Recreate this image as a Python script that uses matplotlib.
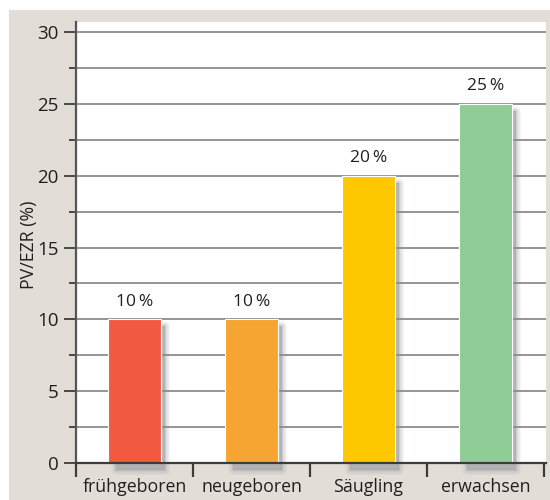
import matplotlib
matplotlib.use("Agg")
import matplotlib.pyplot as plt
from matplotlib.patches import Rectangle
from matplotlib.transforms import ScaledTranslation

categories = ["frühgeboren", "neugeboren", "Säugling", "erwachsen"]
values = [10, 10, 20, 25]
labels = ["10\u2009%", "10\u2009%", "20\u2009%", "25\u2009%"]
colors = ["#f15a41", "#f7a532", "#fec800", "#90cc95"]
yticks = [0, 5, 10, 15, 20, 25, 30]

plt.rcParams['font.family'] = ['Open Sans', 'DejaVu Sans']
TXT = "#231f20"
BEIGE = "#e2ddd6"
GRID = "#8c8c8c"
AX = "#3c3c3c"

W, H = 550, 500
fig = plt.figure(figsize=(5.5, 5.0), dpi=100, facecolor="white")
fig.patches.append(Rectangle((9 / W, 0), 1 - 9 / W, 490 / H, transform=fig.transFigure,
                             facecolor=BEIGE, edgecolor="none", zorder=-10))

ax = fig.add_axes([76 / W, (H - 463) / H, (546 - 76) / W, (463 - 22) / H])
ax.set_facecolor("white")
ax.set_xlim(-0.5, 3.517)
ax.set_ylim(0, 30.71)

# grid lines
for yv in [i * 2.5 for i in range(1, 13)]:
    ax.axhline(yv, color=GRID, lw=1.3, zorder=1)

x = list(range(len(categories)))
bw = 0.445
# blurred shadows (pixel offsets)
off = ScaledTranslation(6 / 100, -7 / 100, fig.dpi_scale_trans)
SH = "#a8aaae"
for r, a in [(0, 0.45), (1.0, 0.25), (2.2, 0.2), (3.5, 0.14), (5, 0.1)]:
    ax.bar(x, values, width=bw - 0.02, color=SH, edgecolor=SH if r > 0 else "none",
           linewidth=r * 2 * 0.72, alpha=a, zorder=0.5, clip_on=False,
           transform=ax.transData + off, joinstyle="round")

bars = ax.bar(x, values, width=bw, color=colors, edgecolor="white", linewidth=0.8, zorder=2)
for xi, v, lab in zip(x, values, labels):
    ax.annotate(lab, (xi, v), xytext=(0, 7), textcoords="offset points",
                ha="center", va="bottom", fontsize=12.5, color=TXT)

for s in ["top", "right"]:
    ax.spines[s].set_visible(False)
ax.spines["left"].set_color("#555555")
ax.spines["left"].set_linewidth(1.6)
ax.spines["bottom"].set_color(AX)
ax.spines["bottom"].set_linewidth(1.6)
ax.spines["bottom"].set_zorder(3)

ax.set_yticks(yticks)
ax.set_yticks([2.5 + 5 * i for i in range(6)], minor=True)
ax.tick_params(axis="y", which="major", length=9, width=1.3, color=AX, pad=3.5,
               labelsize=13.5, labelcolor=TXT)
ax.tick_params(axis="y", which="minor", length=5, width=1.3, color=AX)

ax.set_xticks([-0.5, 0.5, 1.5, 2.5, 3.5])
ax.set_xticklabels([])
ax.set_xticks(x, minor=True)
ax.set_xticklabels(categories, minor=True)
ax.tick_params(axis="x", which="major", length=10, width=1.6, color=AX, direction="out")
ax.tick_params(axis="x", which="minor", length=0, pad=11, labelsize=12.8, labelcolor=TXT)

fig.text(29 / W, (H - 245) / H, "PV/EZR (%)", rotation=90, ha="center", va="center",
         fontsize=12.8, color=TXT)

fig.savefig("out.png", dpi=100, facecolor="white")
